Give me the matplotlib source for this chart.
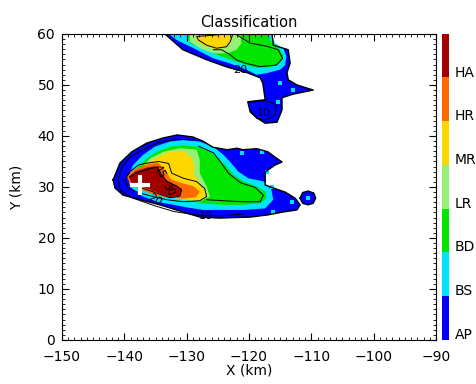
import matplotlib
matplotlib.use("Agg")
import matplotlib.pyplot as plt
from matplotlib.colors import ListedColormap
from matplotlib.ticker import MultipleLocator

# class names and colours, bottom to top
classes = ['AP', 'BS', 'BD', 'LR', 'MR', 'HR', 'HA']
class_colors = ['#0000ff', '#00e5ff', '#00e600', '#96f078', '#ffd700', '#ff6a00', '#a00000']

# echo regions (x km, y km), one polygon per class level
upper_ap = [(-133.5, 60), (-130.6, 56.9), (-126.7, 54.9), (-123.5, 53.5), (-120.3, 52.4),
            (-118.2, 51.4), (-117.8, 50.4), (-117.4, 47.1), (-120.2, 46.7), (-119.8, 44.7),
            (-118.7, 43.5), (-117.4, 42.5), (-115.5, 42.7), (-114.7, 45.1), (-114.7, 47.5),
            (-112.9, 48.2), (-109.7, 49.0), (-112.3, 50.0), (-113.7, 51.0), (-113.9, 52.4),
            (-113.4, 54.3), (-113.7, 56.9), (-116.1, 57.8), (-116.3, 60)]
upper_bs = [(-132.9, 60), (-116.4, 60), (-115.8, 58.2), (-114.5, 57.2), (-114.0, 55.6),
            (-114.2, 53.9), (-115.0, 53.0), (-117.2, 52.3), (-118.8, 52.0), (-120.4, 53.0),
            (-123.0, 54.2), (-125.7, 55.2), (-128.9, 57.2), (-131.6, 58.8)]
upper_bd = [(-130.0, 60), (-129.5, 58.2), (-125.1, 55.9), (-121.9, 54.5), (-118.7, 53.3),
            (-116.6, 53.5), (-115.0, 54.3), (-114.5, 55.9), (-115.3, 57.3), (-116.3, 58.2),
            (-117.0, 60)]
upper_lr = [(-129.5, 60), (-121.4, 60), (-121.2, 58.2), (-122.0, 56.9), (-123.6, 56.2),
            (-125.7, 56.2), (-127.9, 57.2), (-129.5, 58.5)]
upper_mr = [(-128.6, 60), (-122.8, 60), (-122.9, 58.3), (-123.7, 57.4), (-125.3, 57.0),
            (-127.0, 57.6), (-128.4, 58.7)]

lower_ap = [(-141.8, 31.4), (-140.7, 34.7), (-138.8, 36.9), (-136.4, 38.6), (-133.8, 39.6),
            (-131.5, 40.2), (-129.0, 39.8), (-127.4, 39.0), (-125.8, 37.8), (-123.5, 37.3),
            (-121.9, 37.6), (-121.0, 37.3), (-118.7, 37.5), (-117.0, 36.9), (-116.1, 36.1),
            (-114.7, 34.9), (-115.8, 34.3), (-117.0, 33.3), (-117.4, 32.9), (-117.4, 30.4),
            (-116.1, 29.8), (-114.2, 29.0), (-112.6, 27.8), (-111.8, 26.5), (-112.3, 25.5),
            (-114.5, 25.1), (-117.1, 24.5), (-119.8, 24.1), (-124.7, 23.9), (-127.9, 24.1),
            (-130.6, 25.1), (-134.3, 26.5), (-137.5, 27.5), (-140.2, 28.4), (-141.5, 29.8)]
lower_bs = [(-139.35, 32.0), (-138.6, 34.3), (-137.0, 36.3), (-135.1, 37.9), (-132.7, 38.9),
            (-130.5, 39.2), (-127.9, 38.9), (-125.7, 37.9), (-124.1, 36.3), (-122.8, 34.6),
            (-121.7, 33.0), (-120.1, 31.7), (-117.7, 31.1), (-116.4, 29.4), (-116.1, 27.5),
            (-117.4, 25.8), (-120.9, 25.5), (-124.1, 25.5), (-127.3, 25.5), (-130.0, 26.0),
            (-132.1, 26.5), (-134.8, 27.1), (-137.5, 28.4), (-139.1, 30.1)]
lower_bd = [(-138.6, 32.0), (-137.75, 34.0), (-136.4, 35.6), (-134.8, 36.9), (-132.7, 37.9),
            (-130.5, 38.2), (-128.4, 37.9), (-126.25, 36.9), (-124.9, 35.6), (-123.6, 34.0),
            (-122.5, 32.4), (-120.9, 31.1), (-118.8, 30.1), (-117.4, 29.1), (-117.2, 27.8),
            (-118.2, 26.8), (-120.9, 26.5), (-124.1, 26.5), (-126.8, 26.7), (-128.9, 27.1),
            (-131.1, 27.8), (-133.2, 28.1), (-135.9, 28.8), (-138.0, 30.1)]
lower_lr = [(-137.0, 34.0), (-135.9, 35.6), (-133.7, 36.9), (-131.1, 37.6), (-128.4, 37.3),
            (-127.9, 35.3), (-127.9, 32.7), (-126.8, 30.1), (-126.25, 28.1), (-127.9, 27.1),
            (-130.5, 27.5), (-133.2, 28.1), (-135.9, 28.8)]
lower_mr = [(-137.5, 33.0), (-136.4, 34.6), (-134.8, 35.8), (-132.7, 37.0), (-130.5, 37.0),
            (-129.2, 35.8), (-128.7, 34.0), (-128.9, 32.7), (-127.9, 30.7), (-126.8, 28.8),
            (-127.3, 27.5), (-129.5, 27.5), (-132.1, 28.1), (-134.8, 28.4), (-137.0, 29.4)]
lower_hr = [(-139.6, 32.0), (-138.5, 33.4), (-136.4, 34.4), (-134.6, 34.8), (-133.5, 33.3),
            (-132.5, 31.5), (-130.9, 30.8), (-129.0, 30.2), (-127.9, 29.1), (-128.5, 28.0),
            (-130.5, 27.7), (-132.7, 27.9), (-134.8, 28.3), (-137.0, 29.3), (-139.0, 30.4)]
lower_ha = [(-139.3, 32.0), (-138.2, 33.1), (-136.4, 33.8), (-135.0, 34.1), (-134.1, 32.7),
            (-133.3, 31.4), (-131.9, 30.4), (-130.8, 29.7), (-131.0, 28.3), (-132.7, 28.0),
            (-134.0, 28.6), (-135.3, 29.2), (-137.0, 30.0), (-138.8, 30.6)]

cell_ap = [(-111.8, 27.8), (-111.4, 28.9), (-110.5, 29.2), (-109.6, 28.8), (-109.3, 27.8),
           (-109.7, 26.8), (-110.5, 26.5), (-111.4, 26.8)]

# isolated pixels of BS class
spot_x = [-121.1, -117.9, -117.1, -116.3, -113.1, -116.1, -115.0, -112.9, -115.4, -110.5]
spot_y = [36.7, 36.9, 32.9, 30.0, 27.1, 25.1, 50.3, 49.0, 46.7, 27.8]

# reflectivity contour lines
contours = [
    [(-123.3, 60), (-128.4, 59.5), (-128.1, 58.8), (-126.8, 57.8), (-125.2, 57.2), (-123.6, 57.5),
     (-123.0, 58.5), (-122.6, 60)],
    [(-122.2, 60), (-119.8, 58.2), (-117.2, 57.6), (-115.3, 56.9), (-114.6, 55.2), (-115.6, 53.9),
     (-118.2, 53.6), (-120.4, 54.2), (-122.0, 54.9), (-123.0, 55.9), (-124.4, 56.9), (-125.7, 56.9)],
    [(-119.8, 46.7), (-117.2, 46.9), (-115.6, 46.1), (-115.8, 44.1), (-117.4, 43.1), (-118.8, 43.5),
     (-119.6, 44.8)],
    [(-128.9, 39.2), (-131.6, 39.35), (-134.5, 38.7), (-136.95, 37.4), (-139.1, 35.8), (-140.4, 33.9),
     (-141.0, 31.4), (-140.6, 29.3), (-138.6, 27.8), (-135.35, 26.4), (-132.1, 25.2), (-128.4, 24.5),
     (-124.65, 24.3), (-120.9, 24.7)],
    [(-128.1, 38.0), (-125.7, 36.7), (-124.5, 34.8), (-123.3, 32.7), (-121.4, 30.85), (-119.0, 29.9),
     (-117.7, 28.4), (-118.2, 27.1), (-120.9, 27.1), (-124.1, 27.3), (-126.8, 27.5)],
    [(-136.7, 34.6), (-134.5, 35.0), (-132.9, 34.6), (-132.4, 32.7), (-130.5, 31.7), (-128.4, 31.05),
     (-127.1, 29.7), (-126.8, 28.1), (-127.9, 27.3), (-130.5, 27.1), (-133.2, 27.5), (-135.35, 28.1),
     (-137.5, 28.8), (-139.35, 29.7), (-139.9, 31.4), (-139.1, 33.0), (-137.75, 34.3), (-136.7, 34.6)],
    [(-139.1, 32.0), (-138.0, 32.8), (-136.15, 33.5), (-134.8, 33.9), (-134.0, 32.4), (-133.2, 31.05),
     (-131.6, 30.2), (-130.8, 29.4), (-131.1, 28.2), (-132.7, 27.9), (-134.8, 28.8), (-136.95, 29.7),
     (-138.8, 30.4)],
]
label_text = ['10', '20', '45', '30', '20', '10']
label_x = [-126.9, -121.4, -134.4, -133.0, -135.2, -117.6]
label_y = [24.3, 52.9, 33.0, 29.5, 27.4, 44.5]
label_rot = [0, 0, -60, -60, -30, 0]

radar_x = [-137.5]
radar_y = [30.3]

fig = plt.figure(figsize=(4.77, 3.84), dpi=100)
ax = fig.add_axes([0.130, 0.1146, 0.784, 0.797])

layers = [
    (upper_ap, 0), (upper_bs, 1), (upper_bd, 2), (upper_lr, 3), (upper_mr, 4),
    (lower_ap, 0), (lower_bs, 1), (lower_bd, 2), (lower_lr, 3), (lower_mr, 4),
    (lower_hr, 5), (lower_ha, 6), (cell_ap, 0),
]
for poly, k in layers:
    xs = [p[0] for p in poly]
    ys = [p[1] for p in poly]
    ax.fill(xs, ys, color=class_colors[k], lw=0)

ax.scatter(spot_x, spot_y, s=10, marker='s', color=class_colors[1], lw=0, zorder=2)

# black outline of the echo regions
for poly in [upper_ap, lower_ap, cell_ap]:
    xs = [p[0] for p in poly] + [poly[0][0]]
    ys = [p[1] for p in poly] + [poly[0][1]]
    ax.plot(xs, ys, color='black', lw=1.0, zorder=3)

for line in contours:
    ax.plot([p[0] for p in line], [p[1] for p in line], color='black', lw=0.7, zorder=3)

for t, x, y, r in zip(label_text, label_x, label_y, label_rot):
    ax.text(x, y, t, fontsize=8, rotation=r, ha='center', va='center', color='black', zorder=4)

ax.plot(radar_x, radar_y, marker='+', color='white', ms=14, mew=3, zorder=5)

ax.set_xlim(-150, -90)
ax.set_ylim(0, 60)
ax.xaxis.set_major_locator(MultipleLocator(10))
ax.xaxis.set_minor_locator(MultipleLocator(1))
ax.yaxis.set_major_locator(MultipleLocator(10))
ax.yaxis.set_minor_locator(MultipleLocator(1))
ax.tick_params(which='both', direction='in', top=True, right=True, labelsize=10)
ax.tick_params(axis='x', which='major', pad=7)
ax.tick_params(axis='y', which='major', pad=5)
ax.tick_params(which='major', length=5, width=0.8)
ax.tick_params(which='minor', length=2.5, width=0.6)
ax.set_xlabel('X (km)', fontsize=10, labelpad=0)
ax.set_ylabel('Y (km)', fontsize=10, labelpad=10)
ax.set_title('Classification', fontsize=10.5, pad=5)

# colour bar: one band per class
cax = fig.add_axes([0.9266, 0.1146, 0.0126, 0.797])
cmap = ListedColormap(class_colors)
cax.imshow([[i] for i in range(len(classes))], cmap=cmap, origin='lower', aspect='auto',
           interpolation='nearest', extent=[0, 1, 0, len(classes)],
           vmin=-0.5, vmax=len(classes) - 0.5)
for s in cax.spines.values():
    s.set_visible(False)
cax.set_xticks([])
cax.yaxis.tick_right()
cax.set_yticks([i + 0.15 for i in range(len(classes))])
cax.set_yticklabels(classes)
cax.tick_params(axis='y', which='both', length=0, color='none', labelsize=10, pad=5)

fig.savefig('out.png', dpi=100)
